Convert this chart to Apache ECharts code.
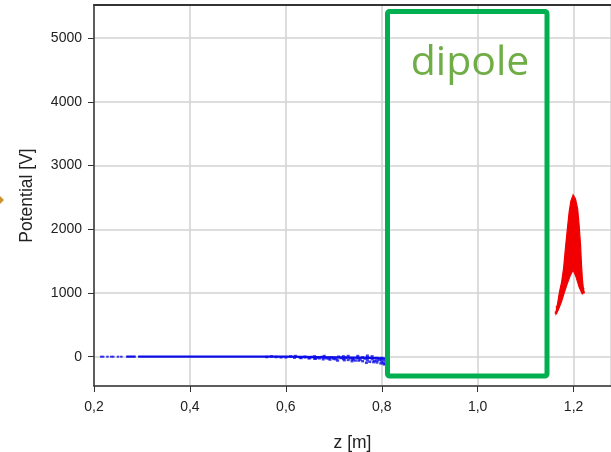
<!DOCTYPE html>
<html>
<head>
<meta charset="utf-8">
<script src="https://cdn.jsdelivr.net/npm/echarts@6/dist/echarts.min.js"></script>
<style>
html,body{margin:0;padding:0;background:#fff;}
#c{width:611px;height:452px;}
</style>
</head>
<body>
<div id="c"></div>
<script>
// ---- data ----
// sparse blue particles at the start of the beam line (z [m], V)
var blueSparseZ = [0.215, 0.219, 0.228, 0.236, 0.240, 0.250, 0.257];
var blueSparseV = [0, 0, 0, 0, 0, 0, 0];
// dense blue band (drawn as connected points)
var blueLineZ = [0.267, 0.287, null, 0.292, 0.45, 0.60, 0.70, 0.78, 0.81];
var blueLineV = [0, 0, null, 0, 0, 0, -10, -20, -30];
// scattered blue particles near the dipole entrance
var blueNoiseZ = [0.56, 0.57, 0.58, 0.59, 0.60, 0.61, 0.62, 0.63, 0.64, 0.65, 0.655, 0.66, 0.665, 0.67, 0.675, 0.68, 0.685, 0.69, 0.695, 0.70,
                  0.705, 0.71, 0.715, 0.72, 0.725, 0.73, 0.735, 0.74, 0.745, 0.75, 0.755, 0.76, 0.765, 0.77, 0.775, 0.78, 0.785, 0.79, 0.795, 0.80,
                  0.803, 0.806, 0.808, 0.81, 0.812, 0.79, 0.76, 0.73, 0.77, 0.80, 0.81, 0.64, 0.66, 0.68, 0.70, 0.72, 0.74, 0.75, 0.77, 0.78,
                  0.79, 0.80, 0.805, 0.81, 0.798, 0.783, 0.768, 0.752, 0.738, 0.722, 0.708, 0.692, 0.678, 0.662, 0.648, 0.632, 0.618];
var blueNoiseV = [-5, 5, -5, -10, -10, 5, 10, -15, -10, -20, -5, 5, -15, -25, -5, -10, -25, -30, -10, -20,
                  -40, 0, -20, -35, -15, -50, -25, -30, -60, -20, -45, -70, -30, -55, -80, -40, -65, -90, -50, -75,
                  -100, -60, -110, -85, -40, -20, -10, 10, 15, -20, -130, 0, -30, 10, -35, 5, -45, 10, -15, 5,
                  -60, -40, -120, -70, -105, -85, -95, -60, -70, -55, -60, -45, -40, -30, -25, -20, -15];
// red particle cloud after the dipole (outline of the filled region)
var redZ = [1.1630, 1.1668, 1.1705, 1.1750, 1.1792, 1.1830, 1.1872, 1.1907, 1.1943, 1.1990, 1.2040, 1.2085, 1.2115, 1.2145, 1.2165, 1.2185, 1.2212,
            1.2180, 1.2115, 1.2052, 1.1990, 1.1927, 1.1865, 1.1810, 1.1745, 1.1680, 1.1635];
var redV = [697, 842, 1014, 1171, 1391, 1705, 2019, 2271, 2443, 2538, 2475, 2318, 2067, 1752, 1438, 1203, 1014,
            985, 1093, 1250, 1360, 1266, 1140, 1014, 857, 732, 670];
var redDotsZ = [1.1632, 1.1655, 1.2210, 1.2198];
var redDotsV = [690, 780, 1010, 1060];
// axes
var xMin = 0.2, xMax = 1.278, xStep = 0.2;
var yMin = -460, yMax = 5520;
var xName = 'z [m]';
var yName = 'Potential [V]';
var boxLabel = 'dipole';

function pairs(a, b) {
  return a.map(function (v, i) { return v === null ? '-' : [v, b[i]]; });
}

var chart = echarts.init(document.getElementById('c'), null, {renderer: 'canvas'});
var labelFont = {fontFamily: 'Liberation Sans, Arial, sans-serif', fontSize: 14, color: '#222'};
var option = {
  animation: false,
  backgroundColor: '#fff',
  grid: {left: 94, right: 0, top: 5, bottom: 66, containLabel: false, outerBoundsMode: 'none'},
  xAxis: [{
    type: 'value', min: xMin, max: xMax, interval: xStep,
    name: xName, nameLocation: 'middle', nameGap: 48,
    nameTextStyle: {fontFamily: 'Liberation Sans, Arial, sans-serif', fontSize: 17.5, color: '#222'},
    axisLine: {show: true, onZero: false, lineStyle: {color: '#333', width: 1.5}},
    axisTick: {show: true, length: 6, lineStyle: {color: '#333', width: 1}},
    axisLabel: Object.assign({margin: 14, showMaxLabel: false,
      formatter: function (v) {
        var k = v / xStep;
        return Math.abs(k - Math.round(k)) < 1e-6 ? v.toFixed(1).replace('.', ',') : '';
      }}, labelFont),
    splitLine: {show: true, lineStyle: {color: '#d2d2d2', width: 1.5}}
  }, {
    type: 'value', position: 'top', min: xMin, max: xMax,
    axisLine: {show: true, onZero: false, lineStyle: {color: '#333', width: 2}},
    axisTick: {show: false}, axisLabel: {show: false}, splitLine: {show: false}
  }],
  yAxis: {
    type: 'value', min: yMin, max: yMax, splitNumber: 5,
    name: yName, nameLocation: 'middle', nameGap: 58,
    nameTextStyle: {fontFamily: 'Liberation Sans, Arial, sans-serif', fontSize: 17.5, color: '#222'},
    axisLine: {show: true, onZero: false, lineStyle: {color: '#333', width: 1.5}},
    axisTick: {show: true, length: 6, lineStyle: {color: '#333', width: 1}},
    axisLabel: Object.assign({margin: 12, showMinLabel: false, showMaxLabel: false,
      formatter: function (v) {
        return Math.abs(v % 1000) < 1e-6 ? String(v) : '';
      }}, labelFont),
    splitLine: {show: true, lineStyle: {color: '#d2d2d2', width: 1.5}}
  },
  series: [{
    type: 'line', data: pairs(blueLineZ, blueLineV), showSymbol: false, connectNulls: false,
    lineStyle: {color: '#0c0ce8', width: 2.2}, z: 3
  }, {
    type: 'scatter', data: pairs(blueSparseZ, blueSparseV), symbol: 'rect', symbolSize: [2.5, 2],
    itemStyle: {color: '#0c0ce8'}, z: 3
  }, {
    type: 'scatter', data: pairs(blueNoiseZ, blueNoiseV), symbol: 'rect', symbolSize: [3, 2.5],
    itemStyle: {color: '#0c0ce8'}, z: 3
  }, {
    type: 'custom', data: [[redZ[0], redV[0]]],
    renderItem: function (params, api) {
      var pts = redZ.map(function (z, i) { return api.coord([z, redV[i]]); });
      return {type: 'polygon', shape: {points: pts}, style: {fill: '#f00000', stroke: '#f00000', lineWidth: 1.2}};
    }, z: 3
  }, {
    type: 'scatter', data: pairs(redDotsZ, redDotsV), symbol: 'rect', symbolSize: 2.5,
    itemStyle: {color: '#f00000'}, z: 3
  }],
  graphic: [{
    type: 'rect', z: 100,
    shape: {x: 387.5, y: 11.5, width: 159.5, height: 364.5, r: 2},
    style: {fill: 'none', stroke: '#00b050', lineWidth: 5}
  }, {
    type: 'text', z: 100, x: 470, y: 63,
    style: {text: boxLabel, fontFamily: 'Open Sans, Noto Sans, sans-serif', fontSize: 41, fill: '#70ad47',
            align: 'center', verticalAlign: 'middle'}
  }, {
    type: 'polygon', z: 100,
    shape: {points: [[-1, 195], [4, 200], [-1, 205]]},
    style: {fill: '#c8952e'}
  }]
};
chart.setOption(option);
</script>
</body>
</html>
